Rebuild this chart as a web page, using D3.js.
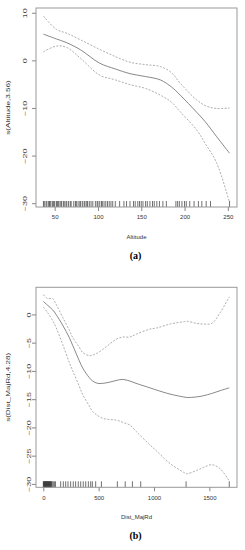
<!DOCTYPE html>
<html>
<head>
<meta charset="utf-8">
<script src="https://cdn.jsdelivr.net/npm/d3@7"></script>
<style>
  body { margin: 0; background: #fff; }
  svg { display: block; }
  text { font-family: "Liberation Sans", Arial, sans-serif; fill: #333; }
</style>
</head>
<body>
<div id="chart"></div>
<script>
// panel (a): altitude smooth term
var altX     = [37, 52, 64, 80, 102, 120, 137, 155, 172, 185, 195, 214, 224, 237, 252];
var altFit   = [5.5, 4.5, 3.7, 2.2, -0.6, -1.8, -2.8, -3.4, -4.1, -5.6, -7.3, -10.9, -12.9, -16.0, -19.5];
var altUpper = [9.3, 6.5, 5.7, 4.3, 2.3, 0.8, -0.4, -0.9, -1.3, -2.6, -4.8, -8.3, -9.5, -10.1, -10.0];
var altLower = [1.8, 3.0, 2.7, 0.4, -3.1, -4.1, -5.1, -5.9, -7.3, -8.8, -10.8, -14.6, -17.5, -21.5, -29.9];
var altRug   = [37, 38, 40, 41, 43, 44, 45, 47, 48, 49, 50, 52, 53, 54, 55, 57, 58, 60, 61, 63, 64, 66, 68, 69,
                72, 74, 75, 77, 79, 80, 82, 84, 85, 87, 88, 90, 92, 94,
                97, 99, 100, 102, 104, 105, 107, 109, 111, 113, 115, 117,
                120, 125, 130, 133, 137, 141, 143, 146, 148, 150, 152, 155, 157, 160, 163, 165, 168, 171, 175,
                179, 190, 192, 194, 197, 200, 202, 206, 211, 216, 220, 225, 230, 252];
var altXTicks = [50, 100, 150, 200, 250];
var altYTicks = [-30, -20, -10, 0, 10];

// panel (b): distance to major road smooth term
var rdX     = [0, 40, 85, 115, 175, 235, 266, 325, 356, 416, 446, 491, 537, 596, 657, 717, 783, 838,
               964, 1025, 1145, 1265, 1296, 1386, 1446, 1521, 1597, 1680];
var rdFit   = [2.3, 1.6, 0.8, 0.0, -1.9, -4.1, -5.5, -8.2, -9.5, -11.2, -11.8, -12.2, -12.2, -12.0, -11.7,
               -11.5, -11.8, -12.2, -13.0, -13.4, -14.1, -14.6, -14.7, -14.6, -14.4, -14.0, -13.5, -13.0];
var rdUpper = [3.5, 2.8, 2.8, 1.8, -0.5, -2.8, -4.1, -5.8, -6.75, -7.3, -7.2, -6.8, -6.2, -5.3, -4.4,
               -4.0, -4.0, -3.5, -2.6, -2.4, -1.7, -1.3, -1.2, -1.6, -1.7, -1.6, 0.3, 3.1];
var rdLower = [1.3, 0.3, -1.1, -2.3, -5.3, -8.5, -10.0, -12.7, -14.2, -16.2, -17.2, -17.9, -18.4, -18.6,
               -18.7, -19.1, -19.6, -20.7, -23.1, -24.2, -26.4, -27.9, -28.2, -27.6, -27.1, -26.6, -27.3, -29.5];
var rdRug   = [0, 3, 6, 9, 12, 15, 18, 21, 24, 27, 30, 33, 36, 39, 42, 45, 48, 51, 54, 57, 60, 63, 66, 70,
               75, 80, 90, 100, 110, 157, 181, 202, 223, 247, 271, 292, 316, 338, 361, 383, 407, 428, 443,
               473, 525, 669, 740, 805, 880, 1290, 1680];
var rdXTicks = [0, 500, 1000, 1500];
var rdYTicks = [-30, -25, -20, -15, -10, -5, 0];

var svg = d3.select("#chart").append("svg")
    .attr("width", 245)
    .attr("height", 550);

function drawPanel(p) {
    var x = d3.scaleLinear().domain(p.xDomain).range([p.left, p.right]);
    var y = d3.scaleLinear().domain(p.yDomain).range([p.bottom, p.top]);
    var g = svg.append("g");

    // rug
    g.selectAll(".rug").data(p.rug).enter().append("line")
        .attr("x1", d => x(d)).attr("x2", d => x(d))
        .attr("y1", p.bottom).attr("y2", p.bottom - 6)
        .attr("stroke", "#333").attr("stroke-width", 0.7);

    var line = d3.line().curve(d3.curveCatmullRom.alpha(0.5));
    function path(vals, dash, col, w) {
        g.append("path")
            .attr("d", line(p.xs.map((v, i) => [x(v), y(vals[i])])))
            .attr("fill", "none")
            .attr("stroke", col)
            .attr("stroke-width", w)
            .attr("stroke-dasharray", dash);
    }
    path(p.upper, "2,1.5", "#999", 0.8);
    path(p.lower, "2,1.5", "#999", 0.8);
    path(p.fit, null, "#6a6a6a", 0.8);

    // box
    g.append("rect")
        .attr("x", p.left).attr("y", p.top)
        .attr("width", p.right - p.left).attr("height", p.bottom - p.top)
        .attr("fill", "none").attr("stroke", "#999").attr("stroke-width", 1);

    // x axis
    var xa = g.append("g").attr("transform", `translate(0,${p.bottom})`)
        .call(d3.axisBottom(x).tickValues(p.xTicks).tickSize(4).tickPadding(4)
            .tickFormat(d3.format("d")));
    xa.select(".domain").remove();
    xa.selectAll("line").attr("stroke", "#888");
    xa.selectAll("text").attr("font-size", "6px").style("fill", "#333");

    // y axis
    var ya = g.append("g").attr("transform", `translate(${p.left},0)`)
        .call(d3.axisLeft(y).tickValues(p.yTicks).tickSize(4).tickFormat(d3.format("d")));
    ya.select(".domain").remove();
    ya.selectAll("line").attr("stroke", "#888");
    ya.selectAll("text")
        .attr("x", null).attr("dy", null)
        .attr("text-anchor", "middle")
        .attr("font-size", "6px")
        .style("fill", "#444")
        .attr("transform", `translate(${p.tickLabelX - p.left},0) rotate(-90) scale(1.5,1)`);

    // titles
    g.append("text")
        .attr("x", (p.left + p.right) / 2).attr("y", p.bottom + 32)
        .attr("text-anchor", "middle").attr("font-size", "6px")
        .text(p.xLabel);
    g.append("text")
        .attr("transform", `translate(${p.yLabelX},${(p.top + p.bottom) / 2}) rotate(-90) scale(1.35,1)`)
        .attr("text-anchor", "middle").attr("font-size", "6px")
        .text(p.yLabel);
    g.append("text")
        .attr("x", (p.left + p.right) / 2 - 1).attr("y", p.bottom + 51.5)
        .attr("text-anchor", "middle")
        .attr("font-size", "10px").attr("font-weight", "bold")
        .style("font-family", "'Liberation Serif', 'Times New Roman', serif")
        .style("fill", "#000")
        .text(p.caption);
}

drawPanel({
    left: 36, right: 237, top: 8, bottom: 207,
    xDomain: [28.4, 260.6], yDomain: [-30.8, 11],
    xs: altX, fit: altFit, upper: altUpper, lower: altLower, rug: altRug,
    xTicks: altXTicks, yTicks: altYTicks,
    tickLabelX: 26.5, yLabelX: 10,
    xLabel: "Altitude", yLabel: "s(Altitude,3.56)", caption: "(a)"
});

drawPanel({
    left: 36, right: 237, top: 287.3, bottom: 487.3,
    xDomain: [-66, 1750], yDomain: [-30.6, 4.8],
    xs: rdX, fit: rdFit, upper: rdUpper, lower: rdLower, rug: rdRug,
    xTicks: rdXTicks, yTicks: rdYTicks,
    tickLabelX: 31, yLabelX: 10,
    xLabel: "Dist_MajRd", yLabel: "s(Dist_MajRd,4.28)", caption: "(b)"
});
</script>
</body>
</html>
